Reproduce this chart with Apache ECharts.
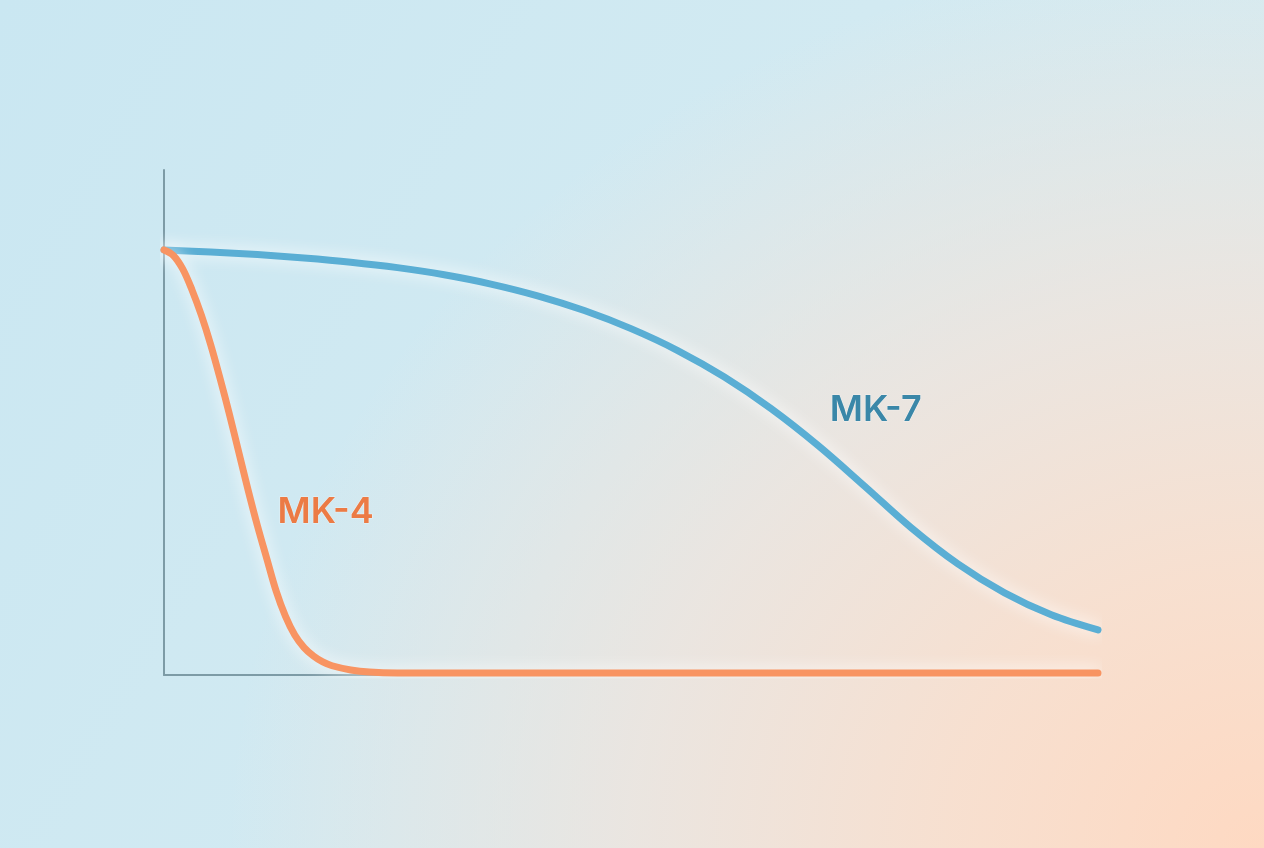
<!DOCTYPE html>
<html>
<head>
<meta charset="utf-8">
<script src="https://cdn.jsdelivr.net/npm/echarts@6/dist/echarts.min.js"></script>
<style>
html,body{margin:0;padding:0;}
body{
  background:
    radial-gradient(ellipse 100% 130% at 100% 100%, rgba(254,217,194,1) 0%, rgba(249,223,206,0.95) 25%, rgba(240,228,220,0.8) 50%, rgba(222,234,236,0) 82%),
    linear-gradient(120deg, #cae7f2 0%, #d2eaf2 50%, #d8ecf1 100%);
  width:1264px;height:848px;overflow:hidden;
}
#chart{width:1264px;height:848px;}
</style>
</head>
<body>
<div id="chart"></div>
<script>
// Series MK-7 (blue)
var mk7X = [0, 5, 10, 15, 20, 25, 30, 35, 40, 45, 50, 55, 60, 65, 70, 75, 80, 85, 90, 95, 100];
var mk7Y = [1.010, 1.005, 0.999, 0.991, 0.981, 0.968, 0.951, 0.929, 0.901, 0.866, 0.823, 0.771, 0.708, 0.633, 0.546, 0.449, 0.350, 0.264, 0.195, 0.143, 0.107];
// Series MK-4 (orange)
var mk4X = [0, 1, 2, 3, 4, 5, 6, 7, 8, 9, 10, 11, 12, 13, 14, 15, 16, 17, 18, 20, 22, 25, 40, 60, 80, 100];
var mk4Y = [1.010, 0.997, 0.965, 0.915, 0.855, 0.785, 0.705, 0.620, 0.530, 0.440, 0.355, 0.277, 0.200, 0.140, 0.095, 0.065, 0.045, 0.031, 0.022, 0.012, 0.007, 0.005, 0.005, 0.005, 0.005, 0.005];
var seriesNames = ['MK-7', 'MK-4'];
var labelPos = { 'MK-7': [76.2, 0.63], 'MK-4': [17.3, 0.387] };

function pairs(xs, ys) { return xs.map(function (x, i) { return [x, ys[i]]; }); }

var chart = echarts.init(document.getElementById('chart'), null, { renderer: 'canvas' });
var glow = { shadowBlur: 16, shadowColor: 'rgba(255,255,255,0.95)' };

function lineSeries(name, xs, ys, color, labelColor, z) {
  return {
    name: name,
    type: 'line',
    data: pairs(xs, ys),
    smooth: 0.35,
    showSymbol: false,
    symbol: 'none',
    z: z,
    lineStyle: Object.assign({ color: color, width: 7, cap: 'round', join: 'round' }, glow),
    markPoint: {
      symbol: 'circle',
      symbolSize: 0,
      silent: true,
      data: [{ coord: labelPos[name], value: name }],
      label: {
        show: true,
        position: 'inside',
        formatter: name,
        color: labelColor,
        fontSize: 36,
        fontWeight: 600,
        fontFamily: 'Inter, Open Sans, sans-serif',
        textBorderColor: 'rgba(255,255,255,0.45)',
        textBorderWidth: 1
      }
    }
  };
}

chart.setOption({
  backgroundColor: 'transparent',
  animation: false,
  grid: { left: 164, right: 166, top: 170, bottom: 173 },
  xAxis: {
    type: 'value', min: 0, max: 100,
    axisLine: { show: true, lineStyle: { color: '#7d9ba6', width: 2 } },
    axisTick: { show: false }, axisLabel: { show: false }, splitLine: { show: false }
  },
  yAxis: {
    type: 'value', min: 0, max: 1.2,
    axisLine: { show: true, lineStyle: { color: '#7d9ba6', width: 2 } },
    axisTick: { show: false }, axisLabel: { show: false }, splitLine: { show: false }
  },
  series: [
    lineSeries(seriesNames[0], mk7X, mk7Y, '#5aaed4', '#3a87a8', 3),
    lineSeries(seriesNames[1], mk4X, mk4Y, '#f89462', '#ec7b45', 4)
  ]
});
</script>
</body>
</html>
